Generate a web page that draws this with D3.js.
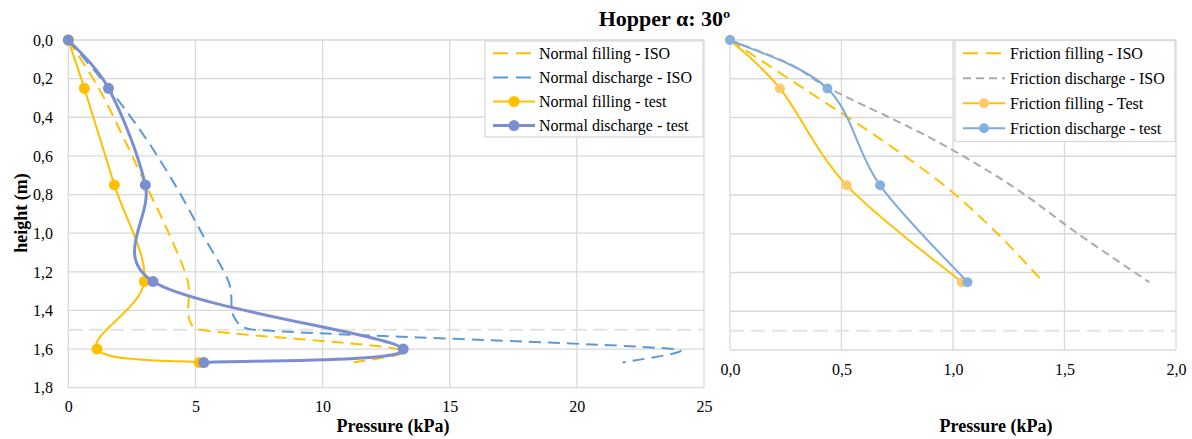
<!DOCTYPE html>
<html>
<head>
<meta charset="utf-8">
<script src="https://cdn.jsdelivr.net/npm/d3@7/dist/d3.min.js"></script>
<style>
  html, body { margin: 0; padding: 0; background: #fff; }
  svg { display: block; }
  text { font-family: "Liberation Serif", "Times New Roman", serif; fill: #000; }
</style>
</head>
<body>
<svg id="chart" width="1192" height="439"></svg>
<script>
// ---------------- DATA ----------------
const chartTitle = "Hopper α: 30º";

// Left chart: normal pressures
const leftXTicks = [0, 5, 10, 15, 20, 25];
const leftYTicks = [0, 0.2, 0.4, 0.6, 0.8, 1.0, 1.2, 1.4, 1.6, 1.8];

const isoHeights = [0, 0.25, 0.5, 0.75, 1.0, 1.25, 1.43, 1.5, 1.6, 1.67];
const normalFillingISO = [0, 1.2, 2.15, 3.05, 3.95, 4.7, 4.73, 5.2, 13.0, 11.2];
const normalDischargeISO = [0, 1.6, 3.0, 4.2, 5.25, 6.3, 6.5, 7.3, 23.85, 21.8];

const testHeights = [0, 0.25, 0.75, 1.25, 1.6, 1.67];
const normalFillingTest = [0, 0.63, 1.81, 2.99, 1.13, 5.15];
const normalDischargeTest = [0, 1.58, 3.03, 3.33, 13.17, 5.33];

// Right chart: friction pressures
const rightXTicks = [0, 0.5, 1.0, 1.5, 2.0];
const rightYTicks = [0, 0.2, 0.4, 0.6, 0.8, 1.0, 1.2, 1.4, 1.6];

const frictionIsoHeights = [0, 0.25, 0.5, 0.75, 1.0, 1.25];
const frictionFillingISO = [0, 0.33, 0.66, 0.96, 1.2, 1.405];
const frictionDischargeIsoHeights = [0, 0.125, 0.25, 0.5, 0.75, 1.0, 1.25];
const frictionDischargeISO = [0, 0.27, 0.445, 0.89, 1.26, 1.56, 1.88];

const frictionTestHeights = [0, 0.25, 0.75, 1.25];
const frictionFillingTest = [0, 0.224, 0.523, 1.039];
const frictionDischargeTest = [0, 0.437, 0.673, 1.065];

const transitionHeight = 1.5;

const leftLegend = ["Normal filling - ISO", "Normal discharge - ISO", "Normal filling - test", "Normal discharge - test"];
const rightLegend = ["Friction filling - ISO", "Friction discharge - ISO", "Friction filling - Test", "Friction discharge - test"];

// ---------------- HELPERS ----------------
// Excel-like smoothed line: Catmull-Rom (1/6) with control points limited to half segment
function ExcelCurve(context) { this._context = context; }
ExcelCurve.prototype = {
  areaStart() {}, areaEnd() {},
  lineStart() { this._pts = []; },
  point(x, y) { this._pts.push([+x, +y]); },
  lineEnd() {
    const p = this._pts, c = this._context, n = p.length;
    if (!n) return;
    c.moveTo(p[0][0], p[0][1]);
    if (n === 1) return;
    const tang = i => {
      const a = p[Math.max(0, i - 1)], b = p[Math.min(n - 1, i + 1)];
      return [(b[0] - a[0]) / 6, (b[1] - a[1]) / 6];
    };
    for (let i = 0; i < n - 1; i++) {
      const p1 = p[i], p2 = p[i + 1];
      const d = Math.hypot(p2[0] - p1[0], p2[1] - p1[1]);
      let t1 = tang(i), t2 = tang(i + 1);
      const l1 = Math.hypot(t1[0], t1[1]), l2 = Math.hypot(t2[0], t2[1]);
      const lim = d / 2;
      if (l1 > lim) { t1 = [t1[0] * lim / l1, t1[1] * lim / l1]; }
      if (l2 > lim) { t2 = [t2[0] * lim / l2, t2[1] * lim / l2]; }
      c.bezierCurveTo(p1[0] + t1[0], p1[1] + t1[1], p2[0] - t2[0], p2[1] - t2[1], p2[0], p2[1]);
    }
  }
};
const excelCurve = ctx => new ExcelCurve(ctx);

const fmt = v => d3.format(".1f")(v).replace(".", ",");
const serif = "'Liberation Serif','Times New Roman',serif";

const svg = d3.select("#chart");
svg.append("rect").attr("width", 1192).attr("height", 439).attr("fill", "#fff");

const gridColor = "#d9d9d9";

function drawPanel(opts) {
  const g = svg.append("g");
  const x = d3.scaleLinear().domain(opts.xDomain).range(opts.xRange);
  const y = d3.scaleLinear().domain(opts.yDomain).range(opts.yRange);

  // horizontal grid
  g.selectAll(null).data(opts.yTicks).enter().append("line")
    .attr("x1", opts.xRange[0]).attr("x2", opts.xRange[1])
    .attr("y1", d => y(d)).attr("y2", d => y(d))
    .attr("stroke", gridColor).attr("stroke-width", 1.3);
  // vertical grid
  g.selectAll(null).data(opts.xTicks).enter().append("line")
    .attr("y1", opts.yRange[0]).attr("y2", opts.yRange[1])
    .attr("x1", d => x(d)).attr("x2", d => x(d))
    .attr("stroke", gridColor).attr("stroke-width", 1.3);

  // transition dashed line
  g.append("line")
    .attr("x1", opts.xRange[0]).attr("x2", opts.xRange[1])
    .attr("y1", y(transitionHeight)).attr("y2", y(transitionHeight))
    .attr("stroke", "#e2e2e2").attr("stroke-width", 2).attr("stroke-dasharray", "14,7");

  // x axis labels
  const xAxis = d3.axisBottom(x).tickValues(opts.xTicks).tickSize(0).tickPadding(0)
    .tickFormat(opts.xFormat);
  const xa = g.append("g").attr("transform", `translate(0,${opts.xLabelY})`).call(xAxis)
    .attr("font-family", serif).attr("font-size", 16);
  xa.select(".domain").remove();
  xa.selectAll("text").attr("dy", 0).attr("fill", "#000").style("font-family", serif);

  if (opts.showY) {
    const yAxis = d3.axisLeft(y).tickValues(opts.yTicks).tickSize(0).tickPadding(0).tickFormat(fmt);
    const ya = g.append("g").attr("transform", `translate(${opts.yLabelX},0)`).call(yAxis)
      .attr("font-family", serif).attr("font-size", 16);
    ya.select(".domain").remove();
    ya.selectAll("text").attr("dy", "0.33em").attr("fill", "#000").style("font-family", serif);
  }

  const line = d3.line().x(d => x(d[0])).y(d => y(d[1])).curve(excelCurve);
  opts.series.forEach(s => {
    const pts = s.values.map((v, i) => [v, s.heights[i]]);
    g.append("path").attr("d", line(pts)).attr("fill", "none")
      .attr("stroke", s.color).attr("stroke-width", s.width)
      .attr("stroke-dasharray", s.dash || null)
      .attr("stroke-linecap", s.dash ? "butt" : "round");
    if (s.marker) {
      g.selectAll(null).data(pts).enter().append("circle")
        .attr("cx", d => x(d[0])).attr("cy", d => y(d[1])).attr("r", s.r)
        .attr("fill", s.marker);
    }
  });

  // legend
  const L = opts.legend;
  g.append("rect").attr("x", L.x).attr("y", L.y).attr("width", L.w).attr("height", L.h)
    .attr("fill", "#fff").attr("stroke", gridColor).attr("stroke-width", 1.3);
  opts.series.forEach((s, i) => {
    const cy = L.rowY + i * L.step;
    g.append("line").attr("x1", L.sx1).attr("x2", L.sx2).attr("y1", cy).attr("y2", cy)
      .attr("stroke", s.color).attr("stroke-width", s.width)
      .attr("stroke-dasharray", s.legendDash || null);
    if (s.marker) {
      g.append("circle").attr("cx", (L.sx1 + L.sx2) / 2).attr("cy", cy).attr("r", s.r).attr("fill", s.marker);
    }
    g.append("text").attr("x", L.tx).attr("y", cy + 5.5).attr("font-size", 16).text(L.labels[i]);
  });

  // axis title
  g.append("text").attr("x", opts.titleX).attr("y", 431.5).attr("text-anchor", "middle")
    .attr("font-size", 18).attr("font-weight", "bold").text("Pressure (kPa)");
  return { x, y };
}

// Left panel
drawPanel({
  xDomain: [0, 25], xRange: [68.3, 704],
  yDomain: [0, 1.8], yRange: [40, 387.7],
  xTicks: leftXTicks, yTicks: leftYTicks,
  xFormat: d3.format("d"), xLabelY: 412,
  showY: true, yLabelX: 53,
  titleX: 393,
  series: [
    { heights: isoHeights, values: normalFillingISO, color: "#ffc000", width: 2, dash: "12,7", legendDash: "15,8" },
    { heights: isoHeights, values: normalDischargeISO, color: "#5b9bd5", width: 2, dash: "12,7", legendDash: "15,8" },
    { heights: testHeights, values: normalFillingTest, color: "#ffc000", width: 2, marker: "#ffc000", r: 5.5 },
    { heights: testHeights, values: normalDischargeTest, color: "#7b8fd0", width: 3, marker: "#7b8fd0", r: 5.5 }
  ],
  legend: { x: 485, y: 41, w: 218, h: 96, rowY: 53.3, step: 24.1, sx1: 493, sx2: 535, tx: 539, labels: leftLegend }
});

// Right panel
drawPanel({
  xDomain: [0, 2], xRange: [730, 1176],
  yDomain: [0, 1.6], yRange: [40, 350],
  xTicks: rightXTicks, yTicks: rightYTicks,
  xFormat: fmt, xLabelY: 375,
  showY: false,
  titleX: 996,
  series: [
    { heights: frictionIsoHeights, values: frictionFillingISO, color: "#ffc000", width: 2, dash: "12,7", legendDash: "15,8" },
    { heights: frictionDischargeIsoHeights, values: frictionDischargeISO, color: "#aaaaaa", width: 2, dash: "8,5", legendDash: "8,5" },
    { heights: frictionTestHeights, values: frictionFillingTest, color: "#ffc000", width: 2, marker: "#ffc96e", r: 5 },
    { heights: frictionTestHeights, values: frictionDischargeTest, color: "#7eaadc", width: 2, marker: "#86b0e0", r: 5 }
  ],
  legend: { x: 955, y: 40.5, w: 220, h: 101, rowY: 53.3, step: 25, sx1: 963, sx2: 1005, tx: 1010, labels: rightLegend }
});

// y axis title
svg.append("text").attr("transform", "translate(27,213) rotate(-90)").attr("text-anchor", "middle")
  .attr("font-size", 18).attr("font-weight", "bold").text("height (m)");

// chart title
svg.append("text").attr("x", 664.5).attr("y", 26).attr("text-anchor", "middle")
  .attr("font-size", 22).attr("font-weight", "bold").text(chartTitle);
</script>
</body>
</html>
